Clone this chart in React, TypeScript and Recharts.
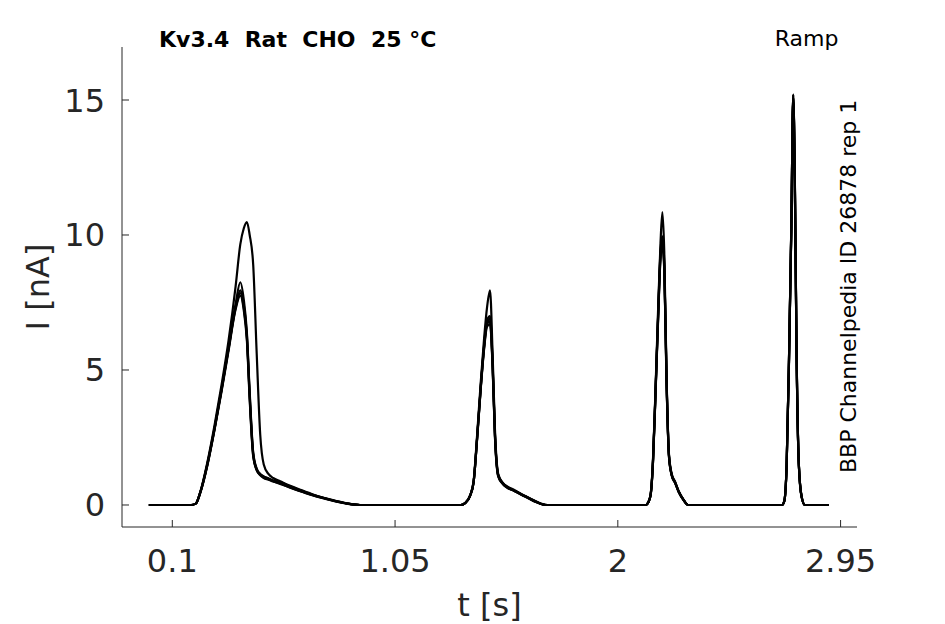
// App.tsx
import React from "react";
import { LineChart, Line, XAxis, YAxis } from "recharts";

// time points (s), shared by every sweep
const tSec = [
  0, 0.1, 0.18,
  0.2, 0.22, 0.25, 0.28, 0.31, 0.34, 0.37, 0.39, 0.405, 0.418, 0.43, 0.445, 0.46, 0.475, 0.49, 0.51, 0.53, 0.56, 0.6, 0.65, 0.7, 0.75, 0.8, 0.85, 0.9,
  1.0, 1.2, 1.33,
  1.35, 1.37, 1.385, 1.4, 1.415, 1.43, 1.442, 1.455, 1.466, 1.476, 1.49, 1.51, 1.53, 1.56, 1.59, 1.62, 1.65, 1.68, 1.7,
  1.9, 2.1, 2.12,
  2.13, 2.14, 2.15, 2.16, 2.172, 2.182, 2.19, 2.198, 2.208, 2.218, 2.23, 2.245, 2.26, 2.28, 2.3,
  2.5, 2.7,
  2.71, 2.72, 2.73, 2.74, 2.748, 2.755, 2.762, 2.772, 2.784, 2.798,
  2.85, 2.9,
];

// current (nA) per sweep
const sweepA = [
  0, 0, 0,
  0.05, 0.5, 1.6, 2.95, 4.45, 6.1, 8.1, 9.65, 10.25, 10.48, 10.0, 8.9, 5.6, 2.6, 1.5, 1.15, 1.0, 0.88, 0.72, 0.55, 0.39, 0.26, 0.15, 0.05, 0,
  0, 0, 0,
  0.08, 0.35, 0.9, 2.6, 4.5, 6.2, 7.3, 7.95, 5.6, 2.8, 1.15, 0.82, 0.68, 0.55, 0.4, 0.27, 0.14, 0.03, 0,
  0, 0, 0,
  0.1, 0.4, 1.7, 4.1, 7.3, 9.7, 10.85, 9.4, 4.7, 1.9, 1.15, 0.85, 0.5, 0.2, 0,
  0, 0,
  0.15, 1.5, 5.4, 10.4, 15.2, 12.0, 5.9, 1.5, 0.3, 0,
  0, 0,
];
const sweepB = [
  0, 0, 0,
  0.05, 0.5, 1.55, 2.85, 4.3, 5.85, 7.45, 8.25, 7.6, 6.4, 4.2, 1.95, 1.35, 1.15, 1.05, 0.97, 0.9, 0.82, 0.68, 0.52, 0.37, 0.25, 0.14, 0.05, 0,
  0, 0, 0,
  0.08, 0.35, 0.85, 2.5, 4.35, 5.95, 6.85, 7.0, 5.3, 2.65, 1.1, 0.8, 0.66, 0.53, 0.39, 0.26, 0.13, 0.02, 0,
  0, 0, 0,
  0.1, 0.4, 1.65, 4.0, 7.1, 9.4, 9.95, 9.0, 4.6, 1.85, 1.12, 0.83, 0.5, 0.2, 0,
  0, 0,
  0.15, 1.5, 5.4, 10.3, 15.15, 11.9, 5.85, 1.5, 0.3, 0,
  0, 0,
];
const sweepC = [
  0, 0, 0,
  0.05, 0.48, 1.52, 2.82, 4.28, 5.8, 7.35, 7.95, 7.4, 6.3, 4.1, 1.9, 1.32, 1.12, 1.02, 0.95, 0.88, 0.78, 0.66, 0.5, 0.36, 0.24, 0.13, 0.04, 0,
  0, 0, 0,
  0.08, 0.35, 0.85, 2.5, 4.3, 5.9, 6.75, 6.9, 5.2, 2.6, 1.1, 0.78, 0.64, 0.52, 0.38, 0.25, 0.12, 0.02, 0,
  0, 0, 0,
  0.1, 0.38, 1.6, 4.0, 7.0, 9.3, 9.85, 8.9, 4.55, 1.85, 1.1, 0.82, 0.48, 0.19, 0,
  0, 0,
  0.15, 1.48, 5.35, 10.3, 15.1, 11.9, 5.8, 1.48, 0.3, 0,
  0, 0,
];
const sweepD = [
  0, 0, 0,
  0.05, 0.48, 1.5, 2.8, 4.25, 5.78, 7.3, 7.85, 7.3, 6.2, 4.0, 1.85, 1.3, 1.14, 1.06, 0.99, 0.91, 0.85, 0.7, 0.53, 0.38, 0.25, 0.14, 0.05, 0,
  0, 0, 0,
  0.08, 0.35, 0.85, 2.45, 4.3, 5.85, 6.7, 6.8, 5.15, 2.55, 1.08, 0.8, 0.65, 0.52, 0.38, 0.26, 0.12, 0.02, 0,
  0, 0, 0,
  0.1, 0.38, 1.6, 3.95, 7.0, 9.2, 9.75, 8.8, 4.5, 1.8, 1.1, 0.8, 0.48, 0.19, 0,
  0, 0,
  0.15, 1.5, 5.4, 10.35, 15.2, 12.0, 5.9, 1.5, 0.3, 0,
  0, 0,
];
const sweepE = [
  0, 0, 0,
  0.05, 0.47, 1.48, 2.78, 4.2, 5.72, 7.25, 7.75, 7.2, 6.1, 3.9, 1.8, 1.28, 1.1, 1.0, 0.94, 0.87, 0.8, 0.65, 0.5, 0.35, 0.23, 0.12, 0.04, 0,
  0, 0, 0,
  0.08, 0.34, 0.84, 2.45, 4.25, 5.8, 6.6, 6.7, 5.1, 2.5, 1.05, 0.77, 0.63, 0.51, 0.37, 0.24, 0.11, 0.02, 0,
  0, 0, 0,
  0.1, 0.37, 1.58, 3.9, 6.9, 9.1, 9.6, 8.7, 4.45, 1.8, 1.08, 0.8, 0.47, 0.18, 0,
  0, 0,
  0.14, 1.47, 5.3, 10.2, 15.05, 11.8, 5.8, 1.45, 0.28, 0,
  0, 0,
];

const sweepKeys = ["a", "b", "c", "d", "e"];
const xTicks = [0.1, 1.05, 2, 2.95];
const yTicks = [0, 5, 10, 15];

const AXIS = "#262626";
const FONT = "DejaVu Sans";

const chartData = tSec.map((t, i) => ({
  t,
  a: sweepA[i],
  b: sweepB[i],
  c: sweepC[i],
  d: sweepD[i],
  e: sweepE[i],
}));

// ticks point inward, like the matlab figure
function XTick(props: any) {
  const { x, y, payload } = props;
  return (
    <g>
      <line x1={x} x2={x} y1={y} y2={y - 7} stroke={AXIS} strokeWidth={1} />
      <text x={x} y={y + 45} textAnchor="middle" fill={AXIS} fontSize={32} fontFamily={FONT}>
        {String(payload.value)}
      </text>
    </g>
  );
}

function YTick(props: any) {
  const { x, y, payload } = props;
  return (
    <g>
      <line x1={x} x2={x + 7} y1={y} y2={y} stroke={AXIS} strokeWidth={1} />
      <text x={x - 17} y={y + 11.5} textAnchor="end" fill={AXIS} fontSize={32} fontFamily={FONT}>
        {String(payload.value)}
      </text>
    </g>
  );
}

export default function App() {
  return (
    <div style={{ position: "absolute", left: 0, top: 0, width: 945, height: 624, background: "#fff" }}>
      <LineChart
        width={945}
        height={624}
        data={chartData}
        margin={{ top: 47, right: 88, bottom: 0, left: 0 }}
      >
        <XAxis
          dataKey="t"
          type="number"
          domain={[-0.1145, 3.02]}
          ticks={xTicks}
          allowDataOverflow
          height={97}
          tickSize={0}
          tickMargin={0}
          tickLine={false}
          axisLine={{ stroke: AXIS, strokeWidth: 1 }}
          tick={<XTick />}
        />
        <YAxis
          type="number"
          domain={[-0.815, 16.963]}
          ticks={yTicks}
          allowDataOverflow
          width={122}
          tickSize={0}
          tickMargin={0}
          tickLine={false}
          axisLine={{ stroke: AXIS, strokeWidth: 1 }}
          tick={<YTick />}
        />
        {sweepKeys.map((k) => (
          <Line
            key={k}
            dataKey={k}
            type="monotone"
            stroke="#000"
            strokeWidth={2.2}
            dot={false}
            activeDot={false}
            isAnimationActive={false}
          />
        ))}
      </LineChart>
      <svg
        width={945}
        height={624}
        style={{ position: "absolute", left: 0, top: 0, pointerEvents: "none" }}
        fontFamily={FONT}
      >
        <text x={159} y={46.5} fontSize={22} fontWeight="bold" fill="#000" style={{ whiteSpace: "pre" }}>
          {"Kv3.4  Rat  CHO  25 °C"}
        </text>
        <text x={838.5} y={46} fontSize={22} textAnchor="end" fill="#000">
          Ramp
        </text>
        <text
          x={0}
          y={0}
          fontSize={22}
          fill="#000"
          transform="translate(856,473) rotate(-90)"
        >
          BBP Channelpedia ID 26878 rep 1
        </text>
        <text x={489.5} y={616} fontSize={32} textAnchor="middle" fill={AXIS}>
          t [s]
        </text>
        <text
          x={0}
          y={0}
          fontSize={32}
          textAnchor="middle"
          fill={AXIS}
          transform="translate(49,287) rotate(-90)"
        >
          I [nA]
        </text>
      </svg>
    </div>
  );
}
